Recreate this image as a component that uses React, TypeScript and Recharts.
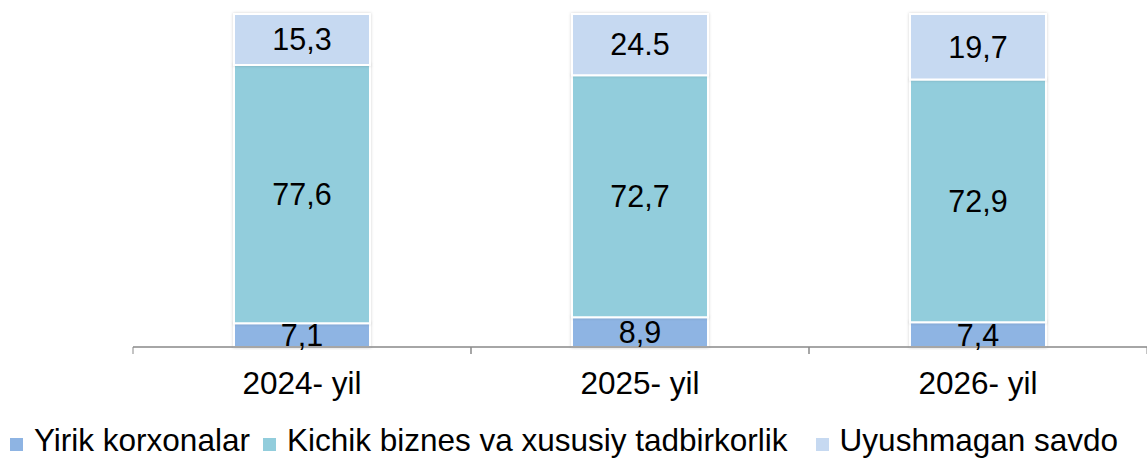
import { Bar, BarChart, LabelList, Legend, XAxis, YAxis } from 'recharts';

const years = ['2024- yil', '2025- yil', '2026- yil'];
// bar heights as drawn (share of 100)
const yirik = [7.1, 8.9, 7.4];
const kichik = [77.6, 72.7, 72.9];
const uyushmagan = [15.3, 18.4, 19.7];
// labels as printed on the bars
const yirikLbl = ['7,1', '8,9', '7,4'];
const kichikLbl = ['77,6', '72,7', '72,9'];
const uyushmaganLbl = ['15,3', '24.5', '19,7'];

const SERIES = [
  { key: 'yirik', name: 'Yirik korxonalar', color: '#8EB4E3', gap: 13 },
  { key: 'kichik', name: 'Kichik biznes va xususiy tadbirkorlik', color: '#92CDDC', gap: 28 },
  { key: 'uyushmagan', name: 'Uyushmagan savdo', color: '#C6D9F1', gap: 0 },
];

const data = years.map((y, i) => ({
  year: y,
  yirik: yirik[i],
  kichik: kichik[i],
  uyushmagan: uyushmagan[i],
  yirikLbl: yirikLbl[i],
  kichikLbl: kichikLbl[i],
  uyushmaganLbl: uyushmaganLbl[i],
}));

const FONT = 'Arial, "Liberation Sans", sans-serif';
const AXIS = '#898989';

function YearTick(props: any) {
  const { x, y, payload } = props;
  const off = payload?.offset;
  return (
    <g>
      {off != null && <line x1={x - off} x2={x - off} y1={y} y2={y + 7} stroke={AXIS} />}
      {off != null && <line x1={x + off} x2={x + off} y1={y} y2={y + 7} stroke={AXIS} />}
      <text x={x} y={y + 47} textAnchor="middle" fontSize={31.5} fontFamily={FONT} fill="#000">
        {payload.value}
      </text>
    </g>
  );
}

function LegendRow() {
  return (
    <div style={{ display: 'flex', alignItems: 'center', height: 36, fontFamily: FONT, fontSize: 31.5, color: '#000', whiteSpace: 'nowrap' }}>
      {SERIES.map((s) => (
        <div key={s.key} style={{ display: 'flex', alignItems: 'center', marginRight: s.gap }}>
          <span style={{ display: 'inline-block', width: 13, height: 13, background: s.color, marginRight: 11, marginTop: 8 }} />
          <span>{s.name}</span>
        </div>
      ))}
    </div>
  );
}

export default function App() {
  return (
    <div style={{ position: 'absolute', left: 0, top: 0, background: '#fff' }}>
      <BarChart width={1147} height={458} data={data} margin={{ top: 14, right: 0, bottom: 0, left: 133 }}>
        <defs>
          <filter id="barShadow" x="-10%" y="-10%" width="120%" height="120%">
            <feDropShadow dx="0" dy="0" stdDeviation="1.5" floodColor="#000" floodOpacity="0.18" />
          </filter>
        </defs>
        <YAxis hide domain={[0, 100]} />
        <XAxis
          dataKey="year"
          height={75}
          tickLine={false}
          tickSize={0}
          tickMargin={0}
          axisLine={{ stroke: AXIS, strokeWidth: 1.3 }}
          tick={<YearTick />}
          interval={0}
        />
        <Legend verticalAlign="bottom" align="left" height={36} wrapperStyle={{ left: 10 }} content={<LegendRow />} />
        {SERIES.map((s) => (
          <Bar
            key={s.key}
            dataKey={s.key}
            name={s.name}
            stackId="a"
            fill={s.color}
            stroke="#fff"
            strokeWidth={2}
            barSize={136}
            filter="url(#barShadow)"
            isAnimationActive={false}
          >
            <LabelList dataKey={`${s.key}Lbl`} position="center" fill="#000" fontSize={30.5} fontFamily={FONT} />
          </Bar>
        ))}
      </BarChart>
    </div>
  );
}
